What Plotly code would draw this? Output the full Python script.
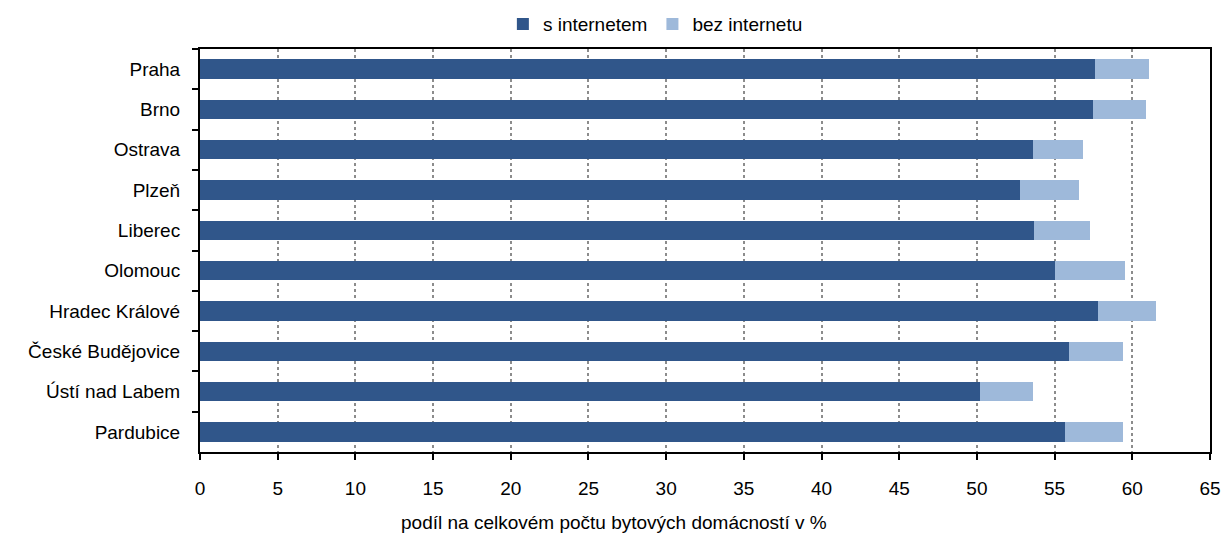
import plotly.graph_objects as go

cities = ["Praha", "Brno", "Ostrava", "Plzeň", "Liberec", "Olomouc",
          "Hradec Králové", "České Budějovice", "Ústí nad Labem", "Pardubice"]
s_internetem = [57.6, 57.5, 53.6, 52.8, 53.7, 55.0, 57.8, 55.9, 50.2, 55.7]
bez_internetu = [3.5, 3.4, 3.2, 3.8, 3.6, 4.5, 3.7, 3.5, 3.4, 3.7]
x_ticks = list(range(0, 66, 5))

FONT = "Liberation Sans, Arial, sans-serif"
FS = 19

fig = go.Figure()
fig.add_trace(go.Bar(y=cities, x=s_internetem, orientation="h", name="s internetem",
                     marker=dict(color="#30568A", line=dict(width=0))))
fig.add_trace(go.Bar(y=cities, x=bez_internetu, orientation="h", name="bez internetu",
                     marker=dict(color="#9EB9DA", line=dict(width=0))))

fig.update_layout(
    barmode="stack",
    bargap=0.52,
    width=1225, height=538,
    margin=dict(l=200, r=15, t=49, b=86, autoexpand=False),
    paper_bgcolor="white", plot_bgcolor="white",
    font=dict(family=FONT, size=FS, color="black"),
    legend=dict(orientation="h", xref="container", yref="container",
                x=0.535, xanchor="center", y=0.955, yanchor="middle",
                font=dict(size=FS), traceorder="normal", itemwidth=30),
    showlegend=True,
)

fig.update_xaxes(
    range=[0, 65], tickvals=x_ticks, ticktext=[str(v) for v in x_ticks],
    showgrid=True, gridcolor="#8C8C8C", griddash="dot", gridwidth=1.5,
    showline=True, linecolor="black", linewidth=2, mirror=True,
    ticks="outside", ticklen=6, tickcolor="black", tickwidth=1.5,
    zeroline=False, tickfont=dict(size=FS), automargin=False,
    ticklabelstandoff=12,
)
fig.update_yaxes(
    autorange="reversed", type="category", tickson="boundaries",
    showgrid=False, showline=True, linecolor="black", linewidth=2, mirror=True,
    ticks="outside", ticklen=6, tickcolor="black", tickwidth=1.5,
    tickfont=dict(size=FS), ticklabelstandoff=14, automargin=False,
)

fig.add_annotation(text="podíl na celkovém počtu bytových domácností v %",
                   xref="paper", yref="paper", x=0.41, y=-0.176,
                   xanchor="center", yanchor="middle", showarrow=False,
                   font=dict(size=FS))

fig.write_html("out.html", config={"displayModeBar": False},
               post_script="document.body.style.margin='0';document.body.style.overflow='hidden';")
